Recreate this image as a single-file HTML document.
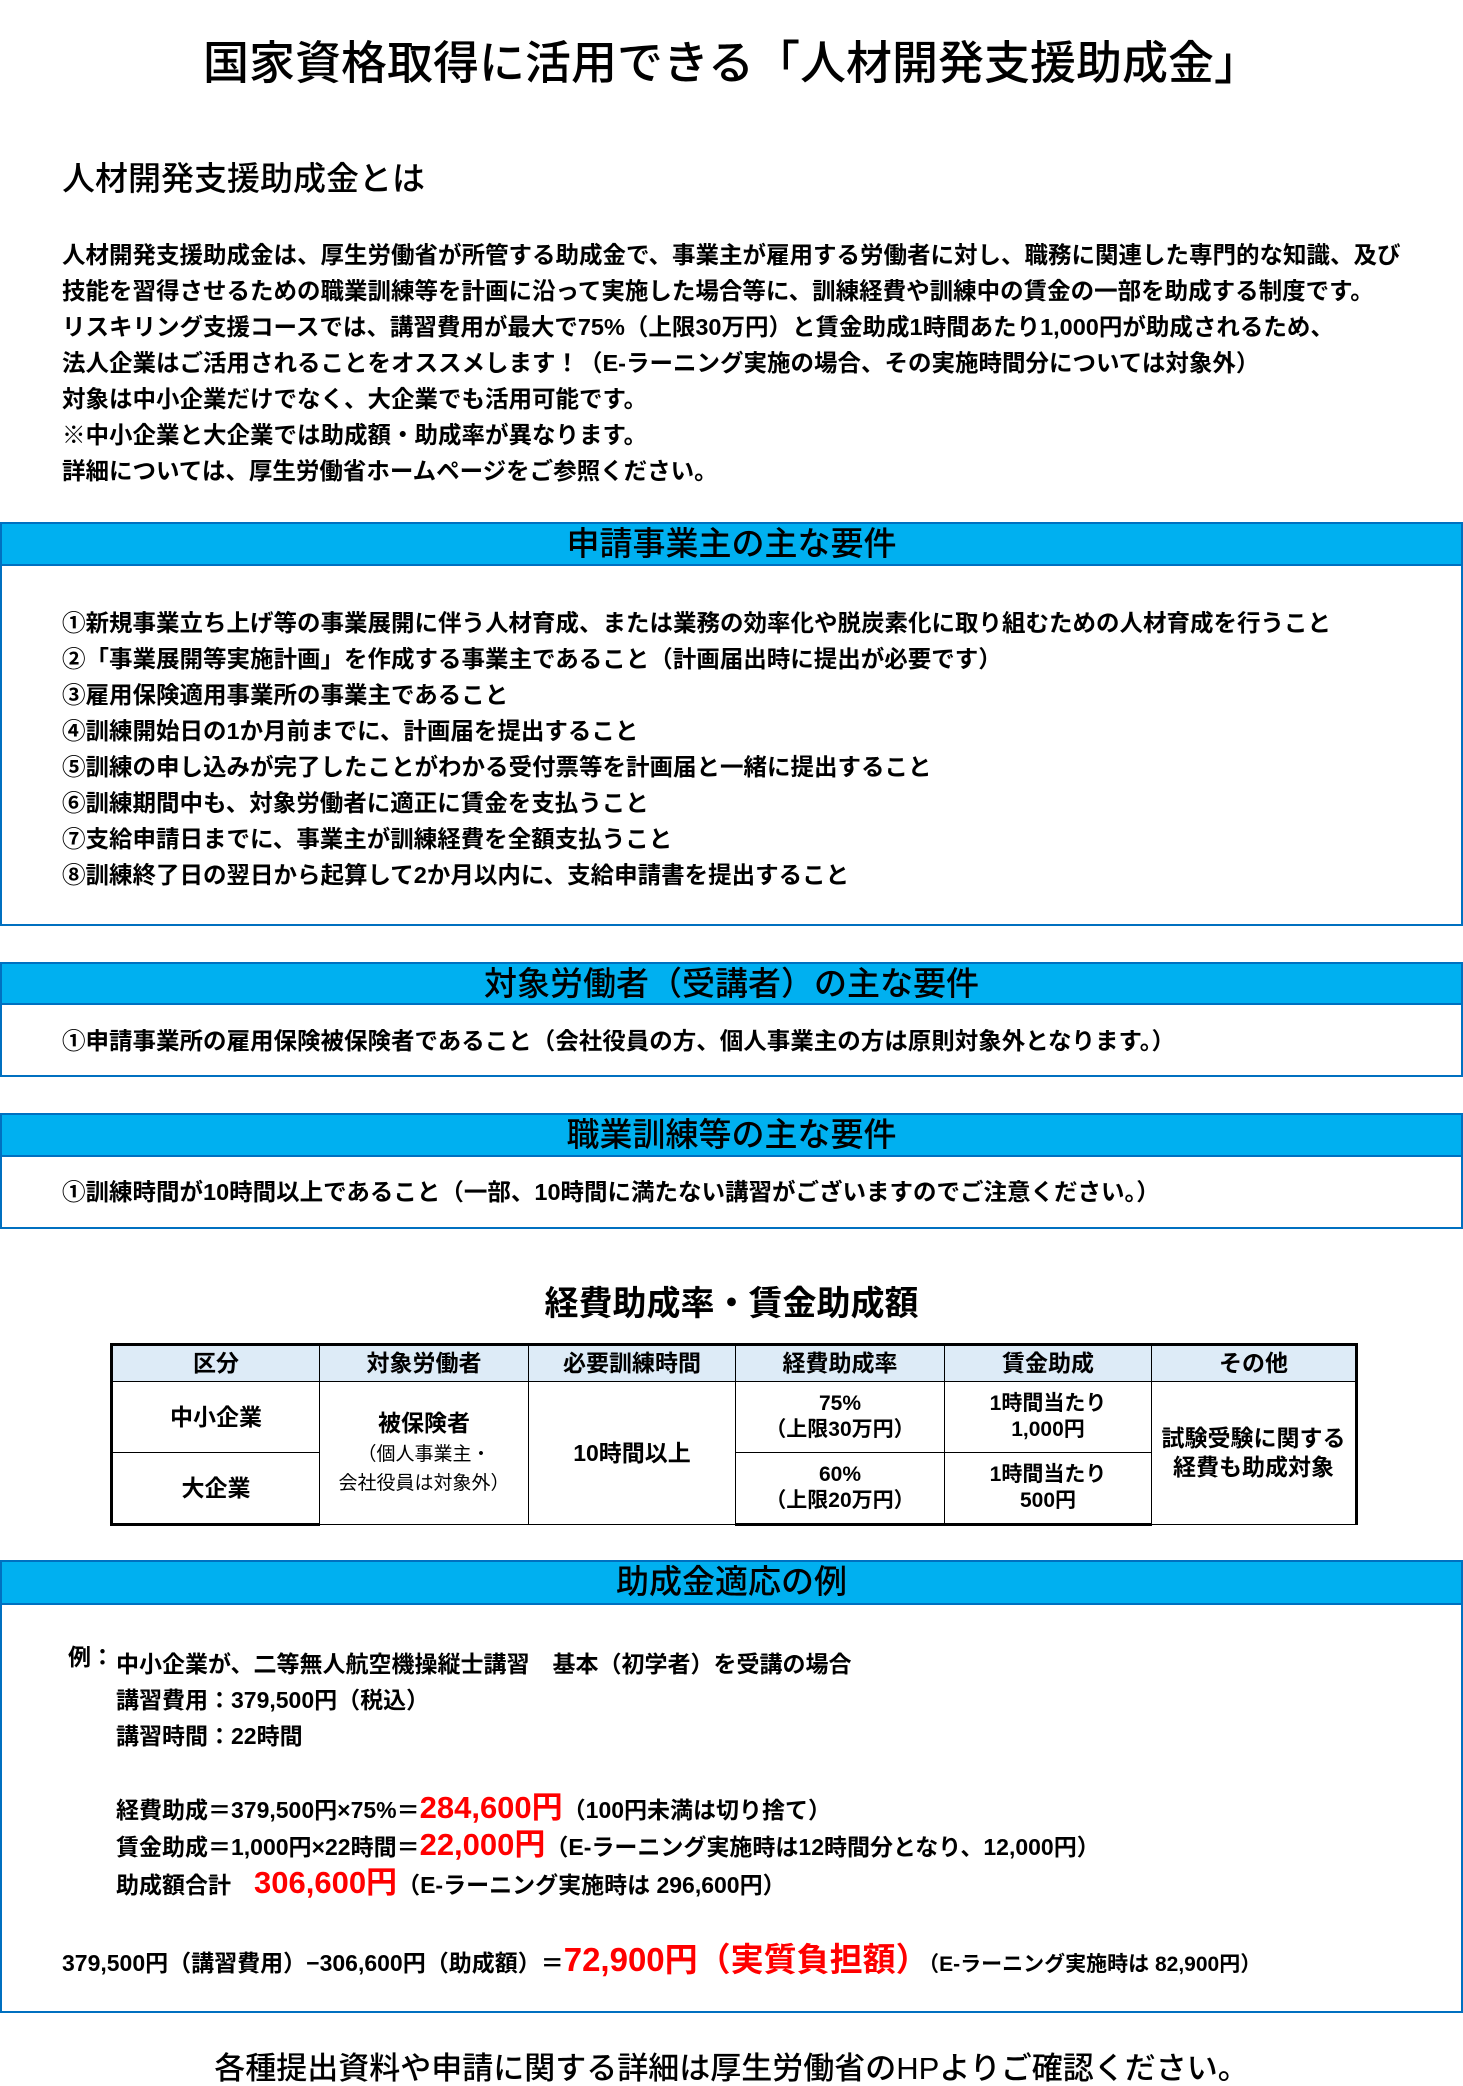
<!DOCTYPE html>
<html><head><meta charset="utf-8"><style>
*{margin:0;padding:0;box-sizing:border-box}
body{width:1463px;height:2086px;background:#fff;position:relative;font-family:"Liberation Sans","Noto Sans CJK JP",sans-serif;color:#000;overflow:hidden}
.a{position:absolute;white-space:nowrap;line-height:1}
.b{font-weight:bold}
.box{position:absolute;left:0;width:1463px;border:2px solid #0070c0;border-top:none}
.hd{position:absolute;left:0;width:1463px;background:#00b0f0;border:2px solid #0070c0;text-align:center;font-size:33px;line-height:40px;font-weight:500}
.t{font-size:23px;font-weight:bold}
table{position:absolute;left:110px;top:1343px;width:1248px;border-collapse:collapse;font-weight:bold;font-size:23px}
td{border:1px solid #000;text-align:center;line-height:1.25}
.red{color:#f00}
</style></head><body>
<div class="a" style="left:0;width:1463px;text-align:center;top:40px;font-size:46px;font-weight:500">国家資格取得に活用できる「人材開発支援助成金」</div>
<div class="a" style="left:62px;top:162px;font-size:33px;font-weight:500">人材開発支援助成金とは</div>
<div class="a t" style="left:62px;top:237px;line-height:36px;font-size:23.5px">人材開発支援助成金は、厚生労働省が所管する助成金で、事業主が雇用する労働者に対し、職務に関連した専門的な知識、及び<br>技能を習得させるための職業訓練等を計画に沿って実施した場合等に、訓練経費や訓練中の賃金の一部を助成する制度です。<br>リスキリング支援コースでは、講習費用が最大で75%（上限30万円）と賃金助成1時間あたり1,000円が助成されるため、<br>法人企業はご活用されることをオススメします！（E-ラーニング実施の場合、その実施時間分については対象外）<br>対象は中小企業だけでなく、大企業でも活用可能です。<br>※中小企業と大企業では助成額・助成率が異なります。<br>詳細については、厚生労働省ホームページをご参照ください。</div>

<div class="box" style="top:522px;height:404px"></div>
<div class="hd" style="top:522px;height:44px">申請事業主の主な要件</div>
<div class="a t" style="left:62px;top:605px;line-height:36px;font-size:23.5px">①新規事業立ち上げ等の事業展開に伴う人材育成、または業務の効率化や脱炭素化に取り組むための人材育成を行うこと<br>②「事業展開等実施計画」を作成する事業主であること（計画届出時に提出が必要です）<br>③雇用保険適用事業所の事業主であること<br>④訓練開始日の1か月前までに、計画届を提出すること<br>⑤訓練の申し込みが完了したことがわかる受付票等を計画届と一緒に提出すること<br>⑥訓練期間中も、対象労働者に適正に賃金を支払うこと<br>⑦支給申請日までに、事業主が訓練経費を全額支払うこと<br>⑧訓練終了日の翌日から起算して2か月以内に、支給申請書を提出すること</div>

<div class="box" style="top:962px;height:115px"></div>
<div class="hd" style="top:962px;height:43px">対象労働者（受講者）の主な要件</div>
<div class="a t" style="left:62px;top:1030px;font-size:23.5px">①申請事業所の雇用保険被保険者であること（会社役員の方、個人事業主の方は原則対象外となります。）</div>

<div class="box" style="top:1113px;height:116px"></div>
<div class="hd" style="top:1113px;height:44px">職業訓練等の主な要件</div>
<div class="a t" style="left:62px;top:1181px;font-size:23.5px">①訓練時間が10時間以上であること（一部、10時間に満たない講習がございますのでご注意ください。）</div>

<div class="a b" style="left:0;width:1463px;text-align:center;top:1287px;font-size:34px">経費助成率・賃金助成額</div>
<table>
<tr style="height:37px;background:#ddebf7"><td style="width:208px;border-top:3px solid #000;border-left:3px solid #000">区分</td><td style="width:209px;border-top:3px solid #000">対象労働者</td><td style="width:207px;border-top:3px solid #000">必要訓練時間</td><td style="width:209px;border-top:3px solid #000">経費助成率</td><td style="width:207px;border-top:3px solid #000">賃金助成</td><td style="border-top:3px solid #000;border-right:3px solid #000">その他</td></tr>
<tr style="height:71px"><td style="border-left:3px solid #000">中小企業</td><td rowspan="2">被保険者<br><span style="font-weight:normal;font-size:19px;line-height:1.3">（個人事業主・<br>会社役員は対象外）</span></td><td rowspan="2">10時間以上</td><td style="font-size:21px">75%<br>（上限30万円）</td><td style="font-size:21px">1時間当たり<br>1,000円</td><td rowspan="2" style="border-right:3px solid #000">試験受験に関する<br>経費も助成対象</td></tr>
<tr style="height:72px"><td style="border-left:3px solid #000;border-bottom:3px solid #000">大企業</td><td style="font-size:21px;border-bottom:3px solid #000">60%<br>（上限20万円）</td><td style="font-size:21px;border-bottom:3px solid #000">1時間当たり<br>500円</td></tr>
</table>

<div class="box" style="top:1560px;height:453px"></div>
<div class="hd" style="top:1560px;height:45px">助成金適応の例</div>
<div class="a t" style="left:68px;top:1646px">例：</div>
<div class="a t" style="left:116px;top:1646px;line-height:36px">中小企業が、二等無人航空機操縦士講習　基本（初学者）を受講の場合<br>講習費用：379,500円（税込）<br>講習時間：22時間</div>
<div class="a t" style="left:116px;top:1792px">経費助成＝379,500円×75%＝<span class="red" style="font-size:31px">284,600円</span>（100円未満は切り捨て）</div>
<div class="a t" style="left:116px;top:1829px">賃金助成＝1,000円×22時間＝<span class="red" style="font-size:31px">22,000円</span>（E-ラーニング実施時は12時間分となり、12,000円）</div>
<div class="a t" style="left:116px;top:1867px">助成額合計　<span class="red" style="font-size:31px">306,600円</span>（E-ラーニング実施時は 296,600円）</div>
<div class="a t" style="left:62px;top:1943px">379,500円（講習費用）−306,600円（助成額）＝<span class="red" style="font-size:33px">72,900円（実質負担額）</span><span style="font-size:21px">（E-ラーニング実施時は 82,900円）</span></div>

<div class="a" style="left:0;width:1463px;text-align:center;top:2053px;font-size:31px;font-weight:500">各種提出資料や申請に関する詳細は厚生労働省のHPよりご確認ください。</div>
</body></html>
